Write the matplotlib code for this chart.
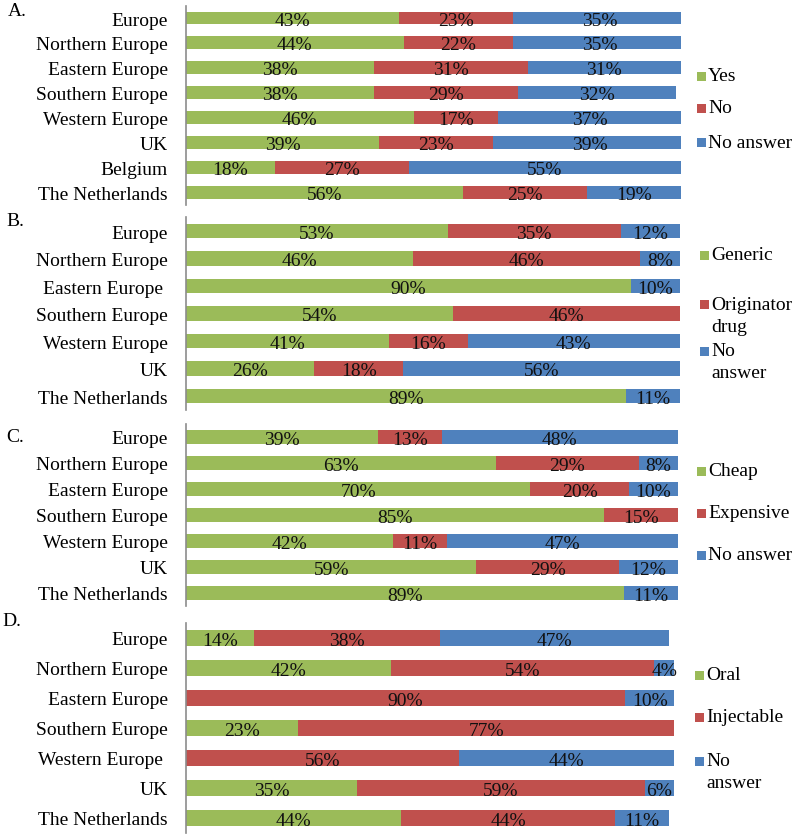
import matplotlib
matplotlib.use("Agg")
import matplotlib.pyplot as plt
from matplotlib.patches import Rectangle

plt.rcParams['font.family'] = ['Liberation Serif', 'DejaVu Serif']

GREEN = "#9BBB59"
RED = "#C0504D"
BLUE = "#4F81BD"

# Panel A
regions_a = ["Europe", "Northern Europe", "Eastern Europe", "Southern Europe",
             "Western Europe", "UK", "Belgium", "The Netherlands"]
yes_a = [43, 44, 38, 38, 46, 39, 18, 56]
no_a = [23, 22, 31, 29, 17, 23, 27, 25]
noans_a = [35, 35, 31, 32, 37, 39, 55, 19]

# Panel B
regions_b = ["Europe", "Northern Europe", "Eastern Europe ", "Southern Europe",
             "Western Europe", "UK", "The Netherlands"]
generic_b = [53, 46, 90, 54, 41, 26, 89]
originator_b = [35, 46, 0, 46, 16, 18, 0]
noans_b = [12, 8, 10, 0, 43, 56, 11]

# Panel C
regions_c = ["Europe", "Northern Europe", "Eastern Europe", "Southern Europe",
             "Western Europe", "UK", "The Netherlands"]
cheap_c = [39, 63, 70, 85, 42, 59, 89]
expensive_c = [13, 29, 20, 15, 11, 29, 0]
noans_c = [48, 8, 10, 0, 47, 12, 11]

# Panel D
regions_d = ["Europe", "Northern Europe", "Eastern Europe", "Southern Europe",
             "Western Europe ", "UK", "The Netherlands"]
oral_d = [14, 42, 0, 23, 0, 35, 44]
inject_d = [38, 54, 90, 77, 56, 59, 44]
noans_d = [47, 4, 10, 0, 44, 6, 11]

W, H = 800, 837
fig = plt.figure(figsize=(W / 100, H / 100), dpi=100)


def px_axes(left, top, right, bottom):
    return fig.add_axes([left / W, 1 - bottom / H, (right - left) / W, (bottom - top) / H])


def legend_entry(lines, col, y, mx):
    # square marker, then one text per line (22 px apart)
    sq = 9
    fig.patches.append(Rectangle(((mx) / W, 1 - (y + sq / 2) / H), sq / W, sq / H,
                                 transform=fig.transFigure, color=col, lw=0))
    for i, line in enumerate(lines):
        fig.text((mx + 11) / W, 1 - (y + 22 * i) / H, line, fontsize=14,
                 ha='left', va='center')


def panel(box, regions, series, letter, letter_xy, legend_items):
    ax = px_axes(*box)
    n = len(regions)
    ys = list(range(n))
    left = [0] * n
    for vals, col in series:
        ax.barh(ys, vals, left=left, height=0.52, color=col, edgecolor='none')
        for y, l, v in zip(ys, left, vals):
            if v > 0:
                ax.text(l + v / 2, y + 0.08, f"{v}%", ha='center', va='center',
                        fontsize=14, color='#111111')
        left = [a + b for a, b in zip(left, vals)]
    ax.set_xlim(0, 100)
    ax.set_ylim(n - 0.5, -0.5)
    ax.set_yticks(ys)
    ax.set_yticklabels(regions, fontsize=14)
    ax.tick_params(axis='y', length=0, pad=13)
    ax.set_xticks([])
    for s in ['top', 'right', 'bottom']:
        ax.spines[s].set_visible(False)
    ax.spines['left'].set_color('#8c8c8c')
    ax.spines['left'].set_linewidth(1.2)
    fig.text(letter_xy[0] / W, 1 - letter_xy[1] / H, letter, fontsize=14,
             ha='left', va='center')
    for lines, col, y, mx in legend_items:
        legend_entry(lines, col, y, mx)
    return ax


panel((186, 6.6, 681, 205.5), regions_a,
      [(yes_a, GREEN), (no_a, RED), (noans_a, BLUE)],
      "A.", (8, 12),
      [(["Yes"], GREEN, 77, 697), (["No"], RED, 109, 697), (["No answer"], BLUE, 143, 697)])

panel((186, 218.3, 680, 410.8), regions_b,
      [(generic_b, GREEN), (originator_b, RED), (noans_b, BLUE)],
      "B.", (6, 221),
      [(["Generic"], GREEN, 256, 700), (["Originator", "drug"], RED, 305, 700),
       (["No", "answer"], BLUE, 352, 700)])

panel((186, 425, 678, 607), regions_c,
      [(cheap_c, GREEN), (expensive_c, RED), (noans_c, BLUE)],
      "C.", (6, 438),
      [(["Cheap"], GREEN, 472, 697), (["Expensive"], RED, 514, 697),
       (["No answer"], BLUE, 556, 697)])

panel((186, 624, 674, 834), regions_d,
      [(oral_d, GREEN), (inject_d, RED), (noans_d, BLUE)],
      "D.", (2, 622),
      [(["Oral"], GREEN, 676, 695), (["Injectable"], RED, 718, 695),
       (["No", "answer"], BLUE, 762, 695)])

fig.savefig("out.png", dpi=100, facecolor='white')
